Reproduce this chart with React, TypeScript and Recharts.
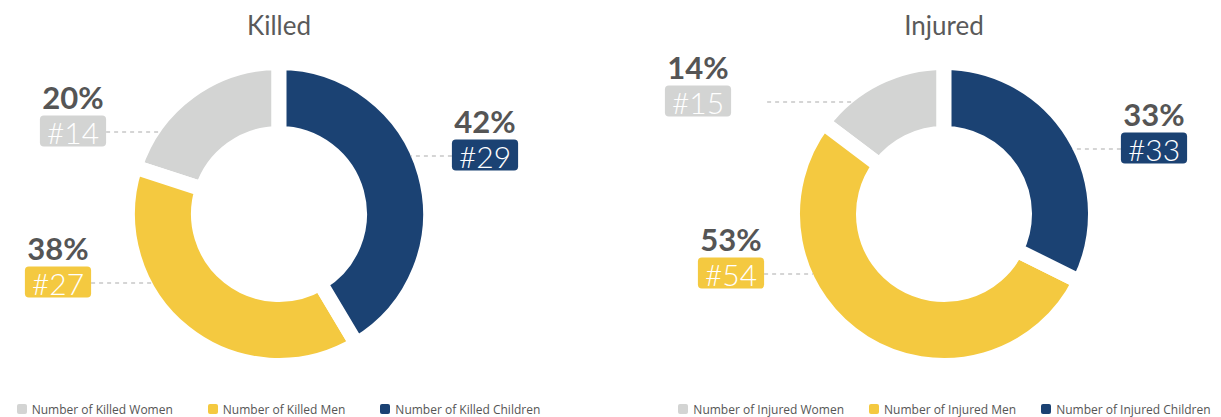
import React from 'react';
import { PieChart, Pie, Cell, Legend } from 'recharts';

// ---- data ----
const killedCategories = ['Number of Killed Women', 'Number of Killed Men', 'Number of Killed Children'];
const killedValues = [14, 27, 29];
const killedPercentLabels = ['20%', '38%', '42%'];

const injuredCategories = ['Number of Injured Women', 'Number of Injured Men', 'Number of Injured Children'];
const injuredValues = [15, 54, 33];
const injuredPercentLabels = ['14%', '53%', '33%'];

const COLORS = ['#D3D4D3', '#F4C940', '#1B4273'];

// ---- label placement (annotation layout, relative to pie centre) ----
const KILLED_LABEL_LAYOUT = [
  { lineDy: -82, boxDx: -206, gap: 0 },
  { lineDy: 69, boxDx: -221, gap: 0 },
  { lineDy: -58, boxDx: 206, gap: 0 },
];
const INJURED_LABEL_LAYOUT = [
  { lineDy: -112, boxDx: -246, gap: 36 },
  { lineDy: 60, boxDx: -213, gap: 0 },
  { lineDy: -65, boxDx: 210, gap: 0 },
];

const FONT = 'Lato, "Open Sans", sans-serif';
const STROKE = 15;
const OUTER = 151.5;
const INNER = 80.5;

const makeLabel = (layout: any[], percents: string[]) => (props: any) => {
  const { cx, cy, outerRadius, index, value } = props;
  const L = layout[index];
  const side = L.boxDx < 0 ? -1 : 1;
  const visR = outerRadius - STROKE / 2;
  const y = cy + L.lineDy;
  const attachX = cx + side * Math.sqrt(Math.max(0, visR * visR - L.lineDy * L.lineDy));
  const text = '#' + value;
  const boxW = text.length * 17.4 + 14;
  const boxH = 31;
  const bx = cx + L.boxDx;
  const boxTop = y - boxH / 2 - 1;
  const boxEdge = side < 0 ? bx + boxW / 2 : bx - boxW / 2;
  const lineStart = boxEdge - side * L.gap;
  return (
    <g>
      <line
        x1={lineStart}
        y1={y}
        x2={attachX}
        y2={y}
        stroke="#C8C8C8"
        strokeWidth={1.5}
        strokeDasharray="4 4"
      />
      <text
        x={bx}
        y={boxTop - 6.5}
        textAnchor="middle"
        fontFamily={FONT}
        fontSize={31}
        fontWeight={700}
        fill="#555555"
      >
        {percents[index]}
      </text>
      <rect x={bx - boxW / 2} y={boxTop} width={boxW} height={boxH} rx={4} ry={4} fill={COLORS[index]} />
      <text
        x={bx}
        y={boxTop + boxH / 2 + 1}
        textAnchor="middle"
        dominantBaseline="central"
        fontFamily={FONT}
        fontSize={30}
        fontWeight={300}
        fill="#FFFFFF"
      >
        {text}
      </text>
    </g>
  );
};

const makeLegend = (categories: string[], itemGap: number) => (props: any) => {
  const payload = [...(props.payload || [])].sort(
    (a: any, b: any) => categories.indexOf(a.value) - categories.indexOf(b.value)
  );
  return (
    <div
      style={{
        display: 'flex',
        justifyContent: 'center',
        alignItems: 'center',
        height: 16,
        fontFamily: '"Open Sans", sans-serif',
        fontSize: 12,
        color: '#555555',
        whiteSpace: 'nowrap',
      }}
    >
      {payload.map((p: any, i: number) => (
        <div key={p.value} style={{ display: 'flex', alignItems: 'center', marginRight: i < payload.length - 1 ? itemGap : 0 }}>
          <span
            style={{
              display: 'inline-block',
              width: 10,
              height: 10,
              borderRadius: 2,
              background: COLORS[categories.indexOf(p.value)],
              marginRight: 5,
            }}
          />
          <span>{p.value}</span>
        </div>
      ))}
    </div>
  );
};

const Donut = ({
  categories,
  values,
  percents,
  layout,
  cx,
  width,
  marginLeft,
  itemGap,
}: {
  categories: string[];
  values: number[];
  percents: string[];
  layout: any[];
  cx: number;
  width: number;
  marginLeft: number;
  itemGap: number;
}) => {
  const data = categories.map((name, i) => ({ name, value: values[i] }));
  return (
    <PieChart width={width} height={409} margin={{ top: 0, right: 0, bottom: 0, left: marginLeft }}>
      <Pie
        data={data}
        dataKey="value"
        nameKey="name"
        cx={cx}
        cy={206}
        innerRadius={INNER}
        outerRadius={OUTER}
        startAngle={90}
        endAngle={450}
        stroke="#FFFFFF"
        strokeWidth={STROKE}
        label={makeLabel(layout, percents)}
        labelLine={false}
        isAnimationActive={false}
      >
        {data.map((d, i) => (
          <Cell key={d.name} fill={COLORS[i]} stroke="#FFFFFF" strokeWidth={STROKE} />
        ))}
      </Pie>
      <Legend
        verticalAlign="bottom"
        align="center"
        content={makeLegend(categories, itemGap)}
        wrapperStyle={{ bottom: 0 }}
      />
    </PieChart>
  );
};

const titleStyle = (centerX: number): React.CSSProperties => ({
  position: 'absolute',
  left: centerX - 100,
  width: 200,
  top: 4,
  textAlign: 'center',
  fontFamily: FONT,
  fontSize: 26,
  lineHeight: '26px',
  color: '#5A5A5A',
});

export default function App() {
  return (
    <div style={{ position: 'relative', width: 1213, height: 409 }}>
      <div style={{ position: 'absolute', left: 0, top: 0 }}>
        <Donut
          categories={killedCategories}
          values={killedValues}
          percents={killedPercentLabels}
          layout={KILLED_LABEL_LAYOUT}
          cx={271}
          width={541}
          marginLeft={0}
          itemGap={35}
        />
      </div>
      <div style={{ position: 'absolute', left: 600, top: 0 }}>
        <Donut
          categories={injuredCategories}
          values={injuredValues}
          percents={injuredPercentLabels}
          layout={INJURED_LABEL_LAYOUT}
          cx={270}
          width={607}
          marginLeft={66}
          itemGap={25}
        />
      </div>
      <div style={titleStyle(271)}>Killed</div>
      <div style={titleStyle(936)}>Injured</div>
    </div>
  );
}
